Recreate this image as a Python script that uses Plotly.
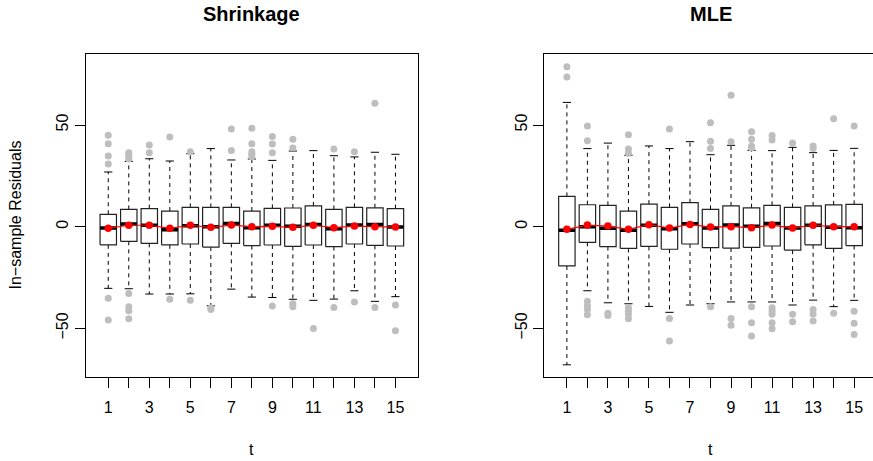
import plotly.graph_objects as go

t = list(range(1, 16))
x_ticktext = [str(i) if i % 2 == 1 else "" for i in t]
y_tickvals = [-50, 0, 50]

# ---- Shrinkage panel ----
shr_q1 = [-8.9, -7.2, -8.2, -8.9, -8.5, -10.0, -8.2, -9.3, -9.0, -9.7, -9.0, -9.8, -8.5, -9.2, -9.5]
shr_med = [-0.7, 1.3, 0.7, -1.5, 0.5, 0.0, 1.6, -0.5, 0.7, 0.2, 1.1, -1.0, 0.8, 1.1, -0.2]
shr_q3 = [6.1, 8.5, 8.9, 7.7, 9.5, 9.5, 9.5, 7.7, 9.0, 9.2, 10.2, 8.5, 9.5, 9.3, 8.9]
shr_lo = [-30.3, -30.5, -33.1, -33.1, -33.0, -38.9, -30.7, -34.6, -34.8, -35.7, -36.2, -35.6, -31.5, -36.7, -34.4]
shr_hi = [26.9, 32.1, 33.4, 32.3, 35.9, 38.4, 32.8, 33.3, 32.6, 37.2, 37.4, 34.9, 34.3, 36.6, 35.6]
shr_mean = [-0.8, 0.7, 0.7, -0.8, 0.7, -0.3, 0.8, 0.0, 0.2, -0.3, 0.7, -0.5, 0.3, 0.0, -0.2]
shr_out = [
    [44.9, 40.8, 34.8, 30.8, -35.2, -45.9],
    [36.4, 35.6, 34.4, 33.3, -32.8, -39.3, -41.3, -45.2],
    [40.2, 36.4],
    [44.1, -35.7],
    [36.9, -36.2],
    [-40.0, -40.7],
    [48.0, 37.5],
    [48.4, 40.8, 36.9, 35.6, 34.4],
    [44.4, 40.7, 36.4, -39.0],
    [43.0, 38.7, -37.9, -39.3],
    [-50.0],
    [38.2, -39.7],
    [36.9, -37.0],
    [60.7, -39.7],
    [-38.5, -51.1],
]

# ---- MLE panel ----
mle_q1 = [-19.3, -7.7, -9.8, -10.7, -9.7, -11.1, -8.5, -10.3, -10.5, -10.2, -9.5, -11.5, -8.9, -10.7, -9.3]
mle_med = [-1.8, 0.0, -0.8, -1.8, 0.7, -1.0, 1.5, -0.7, 0.8, 0.2, 1.6, -0.7, 0.7, -0.3, -0.5]
mle_q3 = [14.9, 10.8, 10.5, 7.7, 11.1, 9.5, 11.8, 8.5, 10.2, 9.3, 10.5, 9.5, 10.2, 10.7, 11.0]
mle_lo = [-67.9, -31.5, -37.4, -37.9, -39.2, -42.1, -38.5, -37.9, -37.0, -37.0, -37.0, -38.5, -36.1, -39.3, -36.2]
mle_hi = [61.1, 38.4, 41.1, 35.1, 39.7, 38.4, 41.8, 35.4, 40.0, 37.5, 37.4, 39.0, 36.4, 37.5, 38.5]
mle_mean = [-1.3, 0.8, 0.3, -1.3, 1.0, -0.7, 1.1, -0.2, 0.0, -0.5, 0.8, -0.7, 0.7, 0.0, 0.0]
mle_out = [
    [78.7, 73.6],
    [49.5, 42.3, -36.7, -38.9, -40.7, -43.3],
    [-42.6, -43.6],
    [45.2, 38.2, 36.1, -39.8, -41.5, -43.0, -45.2],
    [],
    [48.0, -45.1, -56.2],
    [],
    [51.1, 42.0, 38.4, -39.3],
    [64.6, 41.8, -45.1, -48.4],
    [46.7, 43.0, 39.7, 38.7, -39.3, -47.2, -53.8],
    [44.8, 42.6, -39.8, -41.5, -43.0, -47.2, -50.2],
    [41.1, -43.1, -46.7],
    [39.7, 38.5, -40.7, -42.9, -46.4],
    [53.1, -42.5],
    [49.5, -41.6, -47.5, -53.0],
]

FONT = "Liberation Sans, Arial, Helvetica, sans-serif"
BOXW = 0.4   # half box width (boxwex 0.8)
CAPW = 0.2   # half staple width


def panel_traces(q1, med, q3, lo, hi, mean, outs, xa, ya):
    traces = []
    # dashed whiskers
    wx, wy = [], []
    for k, a, b, c, d in zip(t, q1, q3, lo, hi):
        wx += [k, k, None, k, k, None]
        wy += [b, d, None, a, c, None]
    traces.append(go.Scatter(x=wx, y=wy, mode="lines", xaxis=xa, yaxis=ya,
                             line=dict(color="black", width=1, dash="4px,4px"),
                             hoverinfo="skip", showlegend=False))
    # staples
    sx, sy = [], []
    for k, c, d in zip(t, lo, hi):
        sx += [k - CAPW, k + CAPW, None, k - CAPW, k + CAPW, None]
        sy += [d, d, None, c, c, None]
    traces.append(go.Scatter(x=sx, y=sy, mode="lines", xaxis=xa, yaxis=ya,
                             line=dict(color="black", width=1),
                             hoverinfo="skip", showlegend=False))
    # boxes
    bx, by = [], []
    for k, a, b in zip(t, q1, q3):
        bx += [k - BOXW, k + BOXW, k + BOXW, k - BOXW, k - BOXW, None]
        by += [a, a, b, b, a, None]
    traces.append(go.Scatter(x=bx, y=by, mode="lines", xaxis=xa, yaxis=ya,
                             line=dict(color="#222222", width=1.2),
                             hoverinfo="skip", showlegend=False))
    # medians
    mx, my = [], []
    for k, m in zip(t, med):
        mx += [k - BOXW, k + BOXW, None]
        my += [m, m, None]
    traces.append(go.Scatter(x=mx, y=my, mode="lines", xaxis=xa, yaxis=ya,
                             line=dict(color="black", width=3.5),
                             hoverinfo="skip", showlegend=False))
    # outliers
    ox, oy = [], []
    for k, o in zip(t, outs):
        ox += [k] * len(o)
        oy += o
    traces.append(go.Scatter(x=ox, y=oy, mode="markers", xaxis=xa, yaxis=ya,
                             marker=dict(color="#bebebe", size=7),
                             showlegend=False))
    # means
    traces.append(go.Scatter(x=t, y=mean, mode="lines+markers", xaxis=xa, yaxis=ya,
                             line=dict(color="red", width=1.2),
                             marker=dict(color="red", size=7.5),
                             showlegend=False))
    return traces


fig = go.Figure()
for tr in panel_traces(shr_q1, shr_med, shr_q3, shr_lo, shr_hi, shr_mean, shr_out, "x", "y"):
    fig.add_trace(tr)
for tr in panel_traces(mle_q1, mle_med, mle_q3, mle_lo, mle_hi, mle_mean, mle_out, "x2", "y2"):
    fig.add_trace(tr)

W, H = 873, 461
ydom = [(H - 376.7) / H, (H - 54.3) / H]
yrange = [-73.75, 84.76]

xcommon = dict(tickvals=t, ticktext=x_ticktext, ticks="outside", ticklen=10,
               tickcolor="black", showline=True, linecolor="black", linewidth=1,
               showgrid=False, zeroline=False, ticklabelstandoff=6,
               tickfont=dict(family=FONT, size=16, color="black"))
ycommon = dict(tickvals=y_tickvals, range=yrange, domain=ydom, ticks="outside",
               ticklen=10, tickcolor="black", showline=True, linecolor="black",
               linewidth=1, showgrid=False, zeroline=False, tickangle=-90,
               tickfont=dict(family=FONT, size=16, color="black"))

fig.update_layout(
    width=W, height=H,
    margin=dict(l=0, r=0, t=0, b=0),
    paper_bgcolor="white", plot_bgcolor="white",
    showlegend=False,
    xaxis=dict(domain=[85.7 / W, 418.0 / W], range=[-0.1, 16.1], anchor="y",
               mirror=True, **xcommon),
    yaxis=dict(anchor="x", mirror=True, **ycommon),
    xaxis2=dict(domain=[544.3 / W, 1.0], range=[-0.1, -0.1 + (W - 544.3) / 20.52],
                anchor="y2", mirror=True, **xcommon),
    yaxis2=dict(anchor="x2", mirror=False, **ycommon),
    annotations=[
        dict(text="<b>Shrinkage</b>", x=251.8 / W, y=1 - 13.5 / H, xref="paper", yref="paper",
             xanchor="center", yanchor="middle", showarrow=False,
             font=dict(family=FONT, size=20, color="black")),
        dict(text="<b>MLE</b>", x=710.6 / W, y=1 - 13.5 / H, xref="paper", yref="paper",
             xanchor="center", yanchor="middle", showarrow=False,
             font=dict(family=FONT, size=20, color="black")),
        dict(text="t", x=251.8 / W, y=1 - 449 / H, xref="paper", yref="paper",
             xanchor="center", yanchor="middle", showarrow=False,
             font=dict(family=FONT, size=16, color="black")),
        dict(text="t", x=710.6 / W, y=1 - 449 / H, xref="paper", yref="paper",
             xanchor="center", yanchor="middle", showarrow=False,
             font=dict(family=FONT, size=16, color="black")),
        dict(text="In\u2212sample Residuals", x=15 / W, y=1 - 215.5 / H, xref="paper",
             yref="paper", xanchor="center", yanchor="middle", textangle=-90,
             showarrow=False, font=dict(family=FONT, size=16, color="black")),
    ],
)

fig.write_html("out.html")
